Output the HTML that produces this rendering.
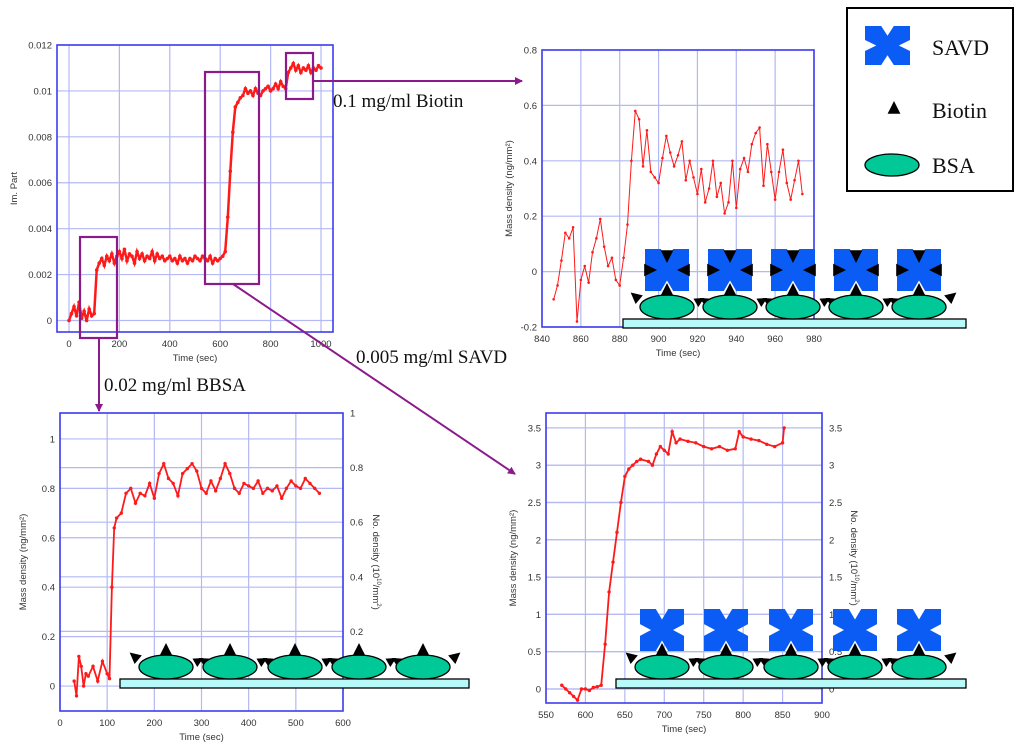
<!DOCTYPE html>
<html><head><meta charset="utf-8">
<style>
html,body{margin:0;padding:0;background:#fff;}
svg{display:block;}
.tk{font-family:"Liberation Sans",sans-serif;font-size:9.5px;fill:#333;}
.ann{font-family:"Liberation Serif",serif;font-size:19px;fill:#111;}
.leg{font-family:"Liberation Serif",serif;font-size:22px;fill:#111;}
</style></head>
<body>
<svg id="fig" width="1024" height="747" viewBox="0 0 1024 747" xmlns="http://www.w3.org/2000/svg"></svg>
<script>
// ---- Chart A (overview, Im. Part) ----
const aTime = [0,10,20,30,40,50,60,70,80,90,100,110,120,130,140,150,160,170,180,190,200,210,220,230,240,250,260,270,280,290,300,310,320,330,340,350,360,370,380,390,400,410,420,430,440,450,460,470,480,490,500,510,520,530,540,550,560,570,580,590,600,610,620,630,640,650,660,670,680,690,700,710,720,730,740,750,760,770,780,790,800,810,820,830,840,850,860,870,880,890,900,910,920,930,940,950,960,970,980,990,1000];
const aVal = [0.0000,0.0003,0.0006,0.0002,0.0008,0.0001,0.0004,0.0000,0.0005,0.0002,0.0003,0.0022,0.0025,0.0027,0.0024,0.0028,0.0026,0.0029,0.0025,0.0028,0.0030,0.0027,0.0031,0.0026,0.0029,0.0028,0.0025,0.0030,0.0027,0.0029,0.0026,0.0028,0.0027,0.0030,0.0026,0.0029,0.0027,0.0028,0.0026,0.0027,0.0028,0.0026,0.0027,0.0025,0.0028,0.0026,0.0027,0.0025,0.0027,0.0026,0.0028,0.0027,0.0026,0.0028,0.0027,0.0026,0.0028,0.0025,0.0027,0.0026,0.0027,0.0028,0.0030,0.0045,0.0065,0.0082,0.0093,0.0095,0.0097,0.0098,0.0101,0.0099,0.0100,0.0098,0.0101,0.0099,0.0098,0.0100,0.0101,0.0102,0.0100,0.0101,0.0103,0.0101,0.0104,0.0102,0.0101,0.0108,0.0110,0.0112,0.0109,0.0111,0.0108,0.0110,0.0109,0.0111,0.0108,0.0110,0.0109,0.0111,0.0110];
const aXTicks = [0,200,400,600,800,1000];
const aYTicks = [0,0.002,0.004,0.006,0.008,0.01,0.012];
const aYLabels = ["0","0.002","0.004","0.006","0.008","0.01","0.012"];
// ---- Chart B (Biotin) ----
const bTime = [846,848,850,852,854,856,858,860,862,864,866,868,870,872,874,876,878,880,882,884,886,888,890,892,894,896,898,900,902,904,906,908,910,912,914,916,918,920,922,924,926,928,930,932,934,936,938,940,942,944,946,948,950,952,954,956,958,960,962,964,966,968,970,972,974];
const bVal = [-0.1,-0.05,0.04,0.14,0.12,0.16,-0.18,-0.03,0.02,-0.04,0.07,0.12,0.19,0.09,0.02,0.05,-0.03,-0.05,0.05,0.17,0.4,0.58,0.55,0.38,0.51,0.36,0.34,0.32,0.41,0.49,0.43,0.38,0.42,0.47,0.33,0.4,0.34,0.28,0.37,0.25,0.3,0.4,0.27,0.32,0.21,0.25,0.4,0.23,0.37,0.41,0.36,0.46,0.5,0.52,0.31,0.46,0.36,0.26,0.36,0.44,0.32,0.26,0.33,0.4,0.28];
const bXTicks = [840,860,880,900,920,940,960,980];
const bYTicks = [-0.2,0,0.2,0.4,0.6,0.8];
const bYLabels = ["-0.2","0","0.2","0.4","0.6","0.8"];
// ---- Chart C (BBSA) ----
const cTime = [30,35,40,45,50,55,60,70,80,90,100,105,110,115,120,130,140,150,160,170,180,190,200,210,220,230,240,250,260,270,280,290,300,310,320,330,340,350,360,370,380,390,400,410,420,430,440,450,460,470,480,490,500,510,520,530,540,550];
const cVal = [0.02,-0.04,0.12,0.08,0.0,0.05,0.04,0.08,0.02,0.1,0.05,0.03,0.4,0.64,0.68,0.7,0.78,0.8,0.74,0.78,0.77,0.82,0.76,0.86,0.9,0.84,0.82,0.77,0.86,0.88,0.9,0.87,0.8,0.78,0.83,0.79,0.84,0.9,0.86,0.8,0.78,0.82,0.81,0.8,0.83,0.78,0.8,0.79,0.81,0.76,0.8,0.83,0.81,0.8,0.84,0.82,0.8,0.78];
const cXTicks = [0,100,200,300,400,500,600];
const cYTicks = [0,0.2,0.4,0.6,0.8,1];
const cYLabels = ["0","0.2","0.4","0.6","0.8","1"];
const cRTicks = [0.2,0.4,0.6,0.8,1];
const cRLabels = ["0.2","0.4","0.6","0.8","1"];
// ---- Chart D (SAVD) ----
const dTime = [570,575,580,585,590,595,600,605,610,615,620,625,630,635,640,645,650,655,660,665,670,680,685,690,695,700,705,710,715,720,730,740,750,760,770,780,790,795,800,810,820,830,840,850,852];
const dVal = [0.05,0,-0.05,-0.1,-0.15,0,0,-0.02,0.02,0.03,0.05,0.6,1.3,1.7,2.1,2.5,2.85,2.95,3.0,3.05,3.08,3.05,3.0,3.15,3.25,3.2,3.15,3.45,3.3,3.35,3.32,3.3,3.25,3.22,3.25,3.2,3.22,3.45,3.38,3.35,3.33,3.28,3.25,3.3,3.5];
const dXTicks = [550,600,650,700,750,800,850,900];
const dYTicks = [0,0.5,1,1.5,2,2.5,3,3.5];
const dYLabels = ["0","0.5","1","1.5","2","2.5","3","3.5"];

const NS = "http://www.w3.org/2000/svg";
const svg = document.getElementById('fig');
function mk(tag, attrs, parent, text){
  const e = document.createElementNS(NS, tag);
  for (const k in attrs) e.setAttribute(k, attrs[k]);
  if (text !== undefined) e.textContent = text;
  (parent || svg).appendChild(e);
  return e;
}

function chart(o){
  const g = mk('g', {});
  
  
  const sx = v => o.x0 + (v - o.dx0) / (o.dx1 - o.dx0) * (o.x1 - o.x0);
  const sy = v => o.y1 - (v - o.dy0) / (o.dy1 - o.dy0) * (o.y1 - o.y0);
  o.xt.forEach(t => { mk('line', {x1:sx(t), x2:sx(t), y1:o.y0, y2:o.y1, stroke:'#b4b8f4', 'stroke-width':1.2}, g); });
  o.yt.forEach(t => { mk('line', {x1:o.x0, x2:o.x1, y1:sy(t), y2:sy(t), stroke:'#b4b8f4', 'stroke-width':1.2}, g); });
  let sr = null;
  if (o.rt){
    sr = v => o.y1 - (v - o.rdy0) / (o.rdy1 - o.rdy0) * (o.y1 - o.y0);
    o.rt.forEach(t => { mk('line', {x1:o.x0, x2:o.x1, y1:sr(t), y2:sr(t), stroke:'#b4b8f4', 'stroke-width':1.2}, g); });
  }
  const fr = mk('rect', {x:o.x0, y:o.y0, width:o.x1 - o.x0, height:o.y1 - o.y0, fill:'none', stroke:'#3d3df0', 'stroke-width':1.6}, g);
  
  
  o.xt.forEach(t => {
    const e = mk('text', {x:sx(t), y:o.y1 + 15, 'text-anchor':'middle', class:'tk'}, g, String(t));
    
    
  });
  o.yt.forEach((t,i) => {
    const e = mk('text', {x:o.x0 - 5, y:sy(t) + 3.5, 'text-anchor':'end', class:'tk'}, g, o.yl[i]);
    
    
  });
  if (o.rt){
    o.rt.forEach((t,i) => {
      const e = mk('text', {x:o.x1 + 7, y:sr(t) + 3.5, 'text-anchor':'start', class:'tk'}, g, o.rl[i]);
      
      
    });
  }
  const xtitle = mk('text', {x:(o.x0 + o.x1)/2, y:o.y1 + 29, 'text-anchor':'middle', class:'tk'}, g, 'Time (sec)');
  
  
  const yc = (o.y0 + o.y1)/2;
  const yt = mk('text', {x:o.ytx, y:yc, 'text-anchor':'middle', class:'tk', transform:`rotate(-90 ${o.ytx} ${yc})`}, g, o.ytitle);
  
  
  if (o.rtitle){
    const rt = mk('text', {x:o.rtx, y:yc, 'text-anchor':'middle', class:'tk', transform:`rotate(90 ${o.rtx} ${yc})`}, g);
    
    
    rt.appendChild(document.createTextNode('No. density (10'));
    mk('tspan', {'font-size':'6', dy:'-4'}, rt, '10');
    mk('tspan', {dy:'4'}, rt, '/mm');
    mk('tspan', {'font-size':'6', dy:'-4'}, rt, '2');
    mk('tspan', {dy:'4'}, rt, ')');
  }
  const pts = o.tx.map((t,i) => sx(t).toFixed(1) + ',' + sy(o.ty[i]).toFixed(1)).join(' ');
  const line = mk('polyline', {points:pts, fill:'none', stroke:'#ff1a1a', 'stroke-width':o.lw || 1.5}, g);
  
  
  o.tx.forEach((t,i) => {
    const c = mk('circle', {cx:sx(t), cy:sy(o.ty[i]), r:o.r || 1.6, fill:'#ff1a1a'}, g);
    
    
  });
  return g;
}

function ytitleMass(){ return 'Mass density (ng/mm²)'; }

chart({name:'overview-chart', x0:57, x1:333, y0:45, y1:332, dx0:-47.6, dx1:1047.6, dy0:-0.000501, dy1:0.012,
  xt:aXTicks, yt:aYTicks, yl:aYLabels, tx:aTime, ty:aVal, ytitle:'Im. Part', ytx:17, lw:2.5, r:1.8});
chart({name:'biotin-chart', x0:542, x1:814, y0:50, y1:327, dx0:840, dx1:980, dy0:-0.2, dy1:0.8,
  xt:bXTicks, yt:bYTicks, yl:bYLabels, tx:bTime, ty:bVal, ytitle:ytitleMass(), ytx:512, lw:1, r:1.3});
chart({name:'bbsa-chart', x0:60, x1:343, y0:413, y1:711, dx0:0, dx1:600, dy0:-0.101, dy1:1.105,
  xt:cXTicks, yt:cYTicks, yl:cYLabels, rt:cRTicks, rl:cRLabels, rdy0:-0.0916, rdy1:1,
  tx:cTime, ty:cVal, ytitle:ytitleMass(), ytx:26, rtitle:true, rtx:373, lw:1.8, r:1.7});
chart({name:'savd-chart', x0:546, x1:822, y0:413, y1:703, dx0:550, dx1:900, dy0:-0.188, dy1:3.70,
  xt:dXTicks, yt:dYTicks, yl:dYLabels, rt:dYTicks, rl:dYLabels, rdy0:-0.188, rdy1:3.70,
  tx:dTime, ty:dVal, ytitle:ytitleMass(), ytx:516, rtitle:true, rtx:851, lw:1.8, r:1.7});

// ---- annotations ----
const P = '#8b1a8b';
mk('defs', {}).innerHTML = '<marker id="ah" markerWidth="8" markerHeight="8" refX="7" refY="4" orient="auto" markerUnits="userSpaceOnUse"><path d="M0,0 L8,4 L0,8 z" fill="#8b1a8b"/></marker>';
[[80,237,37,101,'bbsa-box'],[205,72,54,212,'savd-box'],[286,53,27,46,'biotin-box']].forEach(b => {
  const r = mk('rect', {x:b[0], y:b[1], width:b[2], height:b[3], fill:'none', stroke:P, 'stroke-width':2.2});
  
  
});
[[313,81,522,81,'biotin-arrow'],[99,338,99,411,'bbsa-arrow'],[233,284,515,474,'savd-arrow']].forEach(a => {
  const l = mk('line', {x1:a[0], y1:a[1], x2:a[2], y2:a[3], stroke:P, 'stroke-width':2, 'marker-end':'url(#ah)'});
  
  
});
[[333,107,'0.1 mg/ml Biotin','biotin-label'],[356,363,'0.005 mg/ml SAVD','savd-label'],[104,391,'0.02 mg/ml BBSA','bbsa-label']].forEach(t => {
  const e = mk('text', {x:t[0], y:t[1], class:'ann'}, svg, t[2]);
  
  
});

// ---- schematic helpers ----
function xshape(x, y, w, h, parent){
  const p = [[0,0],[.36,0],[.5,.25],[.64,0],[1,0],[1,.36],[.75,.5],[1,.64],[1,1],[.64,1],[.5,.75],[.36,1],[0,1],[0,.64],[.25,.5],[0,.36]]
    .map(q => (x + q[0]*w).toFixed(1) + ',' + (y + q[1]*h).toFixed(1)).join(' ');
  const e = mk('polygon', {points:p, fill:'#0a5cf5'}, parent);
  
  
}
function tri(cx, cy, s, ang, parent){
  const e = mk('polygon', {points:`0,${-s} ${s*0.8},${s*0.6} ${-s*0.8},${s*0.6}`, fill:'#000', transform:`translate(${cx},${cy}) rotate(${ang})`}, parent);
  
  
}
function ell(cx, cy, parent){
  const e = mk('ellipse', {cx:cx, cy:cy, rx:27, ry:12, fill:'#00c896', stroke:'#000', 'stroke-width':1.3}, parent);
  
  
}
function substrate(x, y, w, parent){
  const e = mk('rect', {x:x, y:y, width:w, height:9, fill:'#b8fafa', stroke:'#000', 'stroke-width':1.3}, parent);
  
  
}
function schematic(name, cxs, cy, subX, subW, savd, savdMode){
  const g = mk('g', {});
  
  
  substrate(subX, cy + 12, subW, g);
  tri(cxs[0] - 31, cy - 10, 7, -50, g);
  tri(cxs[cxs.length-1] + 32, cy - 10, 7, 50, g);
  cxs.forEach((cx, i) => {
    if (i < cxs.length - 1){ tri(cx + 32, cy - 6, 6, 60, g); tri(cx + 38, cy - 6, 6, -60, g); }
  });
  cxs.forEach(cx => ell(cx, cy, g));
  cxs.forEach(cx => {
    if (savd){
      const w = 44, h = 42, top = cy - 58;
      xshape(cx - w/2, top, w, h, g);
      tri(cx, cy - 16, 8, 0, g);
      if (savdMode === 'full'){
        tri(cx, top + 6, 8, 180, g);
        tri(cx - w/2 + 4, top + h/2, 8, 90, g);
        tri(cx + w/2 - 4, top + h/2, 8, -90, g);
      }
    } else {
      tri(cx, cy - 16, 8, 0, g);
    }
  });
}
schematic('biotin-schematic', [667,730,793,856,919], 307, 623, 343, true, 'full');
schematic('bbsa-schematic', [166,230,295,359,423], 667, 120, 349, false);
schematic('savd-schematic', [662,726,791,855,919], 667, 616, 350, true, 'half');

// ---- legend ----
const lg = mk('g', {});


mk('rect', {x:847, y:8, width:166, height:183, fill:'#fff', stroke:'#000', 'stroke-width':2}, lg);
xshape(865, 26, 45, 39, lg);
const l1 = mk('text', {x:932, y:55, class:'leg'}, lg, 'SAVD');


tri(894, 109, 8, 0, lg);
const l2 = mk('text', {x:932, y:118, class:'leg'}, lg, 'Biotin');


mk('ellipse', {cx:892, cy:165, rx:27, ry:11, fill:'#00c896', stroke:'#000', 'stroke-width':1.3}, lg);
const l3 = mk('text', {x:932, y:173, class:'leg'}, lg, 'BSA');


</script>
</body></html>
